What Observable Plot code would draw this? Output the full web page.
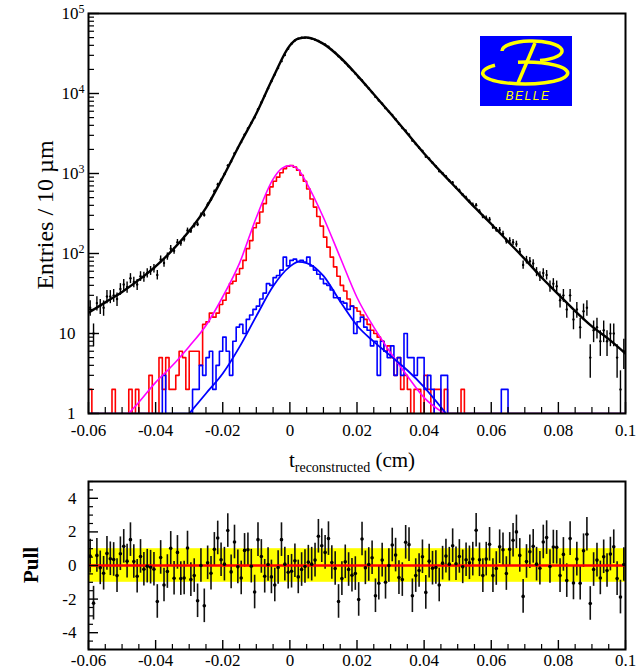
<!DOCTYPE html>
<html><head><meta charset="utf-8">
<script src="https://cdn.jsdelivr.net/npm/d3@7"></script>
<script src="https://cdn.jsdelivr.net/npm/@observablehq/plot@0.6"></script>
<style>
body{margin:0;background:#fff;}
#wrap{position:relative;width:644px;height:671px;font-family:"Liberation Serif","Times New Roman",serif;color:#000;overflow:hidden;}
#top,#bot{position:absolute;left:0;}
#top{top:0}
#bot{top:470px}
.lab{position:absolute;white-space:nowrap;transform:translate(-50%,-50%);}
.rot{transform:translate(-50%,-50%) rotate(-90deg);}
#logo{position:absolute;left:480px;top:36px;}
</style></head><body>
<div id="wrap">
 <div id="top"></div><div id="bot"></div>
 <div class="lab rot" style="left:45px;top:215px;font-size:24px;">Entries / 10 µm</div>
 <div class="lab rot" style="left:31px;top:565px;font-size:21px;font-weight:bold;">Pull</div>
 <div class="lab" style="left:352px;top:460px;font-size:21px;">t<span style="font-size:14px;position:relative;top:5px;">reconstructed</span> (cm)</div>
 <svg id="logo" width="92" height="70" viewBox="0 0 92 70">
  <rect x="0" y="0" width="92" height="70" fill="#0000ff"/>
  <path d="M22,15 A30,10 0 1 1 60,24.6" fill="none" stroke="#ffff00" stroke-width="3.5"/>
  <path d="M15,29.3 A42.5,11 0 1 0 38,26.2" fill="none" stroke="#ffff00" stroke-width="3.5"/>
  <path d="M55,7 L38,47" fill="none" stroke="#ffff00" stroke-width="3.5"/>
  <text x="48" y="64" text-anchor="middle" font-family="Liberation Sans, Arial, sans-serif" font-style="italic" font-size="12" letter-spacing="1.5" fill="#ffff00">BELLE</text>
 </svg>
</div>
<script>
// ---- histogram binning (10 µm bins) ----
const binStart = -0.06;
const binWidth = 0.001;

// black data: entries per bin
const blackCounts = [
 21,10,24,22,21, 29,29,30,27,36, 41,38,49,44,41, 52,51,57,61,65,
 54,84,76,92,115, 108,138,135,152,194, 192,224,232,304,303, 409,473,598,728,826,
 982,1255,1415,1784,2080, 2469,3049,3645,4292,5027, 6359,7721,9379,11620,14208, 17225,20876,25363,30214,36232,
 41905,45874,48379,49834,49990, 49605,48530,47090,45359,42884, 40895,38331,35109,32327,29144, 26664,24244,21843,19688,17801,
 15813,14578,12864,11541,10343, 9074,8183,7441,6556,5943, 5398,4775,4170,3707,3430, 3053,2568,2342,2099,1907,
 1621,1527,1359,1223,1065, 999,916,815,767,667, 613,540,498,446,408, 402,335,289,277,266,
 214,198,197,176,143, 145,138,131,105,72, 83,80,75,59,52, 57,54,39,42,39,
 26,30,20,30,15, 20,12,19,21,5, 11,12,8,11,8, 10,10,5,2,6
];

// red histogram
const redCounts = [
 2,0,0,0,0, 0,0,2,0,0, 0,0,2,0,2, 0,0,0,3,0,
 0,5,2,5,2, 2,3,6,5,2, 6,6,6,4,13, 14,18,16,18,23,
 26,32,42,45,55, 65,82,115,145,210, 240,330,420,540,680, 800,900,1020,1150,1230,
 1260,1200,1100,950,800, 640,480,380,290,220, 160,120,90,68,52, 40,34,27,22,21,
 19,17,15,13,11, 10,9,8,6,7, 5,3,5,2,3, 2,0,2,2,0,
 3,2,0,2,2, 0,2,0,0,0, 0,2,0,0,0, 0,0,0,0,0,
 0,0,0,0,0, 0,0,0,0,0, 0,0,0,0,0, 0,0,0,0,0,
 0,0,0,0,0, 0,0,0,0,0, 0,0,0,0,0, 0,0,0,0,0
];

// blue histogram
const blueCounts = [
 0,0,0,0,0, 0,0,0,0,0, 0,0,0,0,0, 0,0,0,0,0,
 0,0,3,0,0, 0,0,0,0,0, 0,2,2,4,3, 5,6,2,4,6,
 9,6,3,8,12, 13,10,15,17,20, 22,27,32,42,40, 50,53,62,90,70,
 82,85,80,82,78, 90,70,62,55,48, 42,40,35,28,28, 25,24,20,22,10,
 14,16,12,11,7, 8,3,8,6,5, 7,3,5,3,10, 5,5,3,5,5,
 2,3,2,0,0, 3,3,0,0,0, 0,0,0,0,0, 0,0,0,0,0,
 0,0,0,2,2, 0,0,0,0,0, 0,0,0,0,0, 0,0,0,0,0,
 0,0,0,0,0, 0,0,0,0,0, 0,0,0,0,0, 0,0,0,0,0
];

// pulls per bin
const pulls = [
 0.56,-2.24,0.6,-0.14,-0.46,0.72,0.4,0.36,-0.6,0.7,
 1.14,0.26,1.54,0.24,-0.64,0.54,-0.22,-0.04,-0.1,-0.22,
 -2.14,0.48,-1.16,-0.36,1.02,-0.76,0.78,-0.78,-0.74,1.04,
 -0.84,-0.6,-2.1,0.0,-2.4,0.16,-0.46,0.96,1.64,0.34,
 0.08,2.08,-0.38,1.4,-0.08,-0.74,0.9,0.94,-0.04,-1.58,
 1.54,0.54,-0.64,0.06,-0.68,-1.16,-0.12,1.54,0.08,-0.4,
 -0.34,0.28,-0.68,-0.24,-0.06,0.2,0.08,0.32,1.74,1.18,
 0.78,1.6,0.18,-0.18,-2.14,-0.78,0.22,-0.24,-0.58,-0.48,
 -2.02,1.58,-0.14,0.06,0.46,-1.8,-1.06,0.32,-1.0,0.0,
 1.22,0.62,-0.72,-0.84,1.38,1.24,-1.8,-0.6,-0.3,0.52,
 -1.6,0.26,-0.16,-0.12,-1.16,0.14,0.56,0.08,1.18,0.1,
 0.54,-0.08,0.34,0.16,0.38,2.1,0.34,-0.6,0.38,1.26,
 -0.6,-0.18,1.12,0.94,-0.48,0.96,1.5,2.0,0.6,-1.84,
 0.24,0.82,1.14,0.08,-0.16,1.4,1.66,-0.06,1.1,1.08,
 -0.6,0.66,-0.9,1.6,-1.04,0.38,-1.06,0.88,1.86,-2.26,
 -0.24,0.32,-0.74,0.52,-0.3,0.68,1.12,-0.78,-1.88,0.06
];

// fit curves (read at knots)
const fitT = [-0.06,-0.055,-0.05,-0.045,-0.04,-0.035,-0.03,-0.025,-0.02,-0.015,-0.01,-0.005,0,0.0025,0.005,0.01,0.015,0.02,0.025,0.03,0.035,0.04,0.045,0.05,0.055,0.06,0.065,0.07,0.075,0.08,0.085,0.09,0.095,0.1];
const fitV = [18.2,24.5,33.1,46.8,69.2,110,191,372,891,2291,5623,15849,39811,48400,50119,41687,28184,16982,9772,5623,3162,1778,1047,631,380,234,141,85.1,50.1,30.9,19.1,12.3,8.51,5.62];
const magT = [-0.048,-0.045,-0.04,-0.035,-0.03,-0.025,-0.02,-0.015,-0.01,-0.005,-0.0025,0,0.0025,0.005,0.01,0.015,0.02,0.025,0.03,0.035,0.04,0.046];
const magV = [1.0,1.38,2.45,3.98,6.9,12.6,28.8,75.9,282,851,1150,1259,1122,759,282,89,28.2,12.0,5.75,2.95,1.58,1.0];
const bfT = [-0.03,-0.025,-0.02,-0.015,-0.01,-0.005,0,0.0025,0.005,0.01,0.015,0.02,0.025,0.03,0.035,0.04,0.045,0.0465];
const bfV = [1.0,1.78,3.16,6.8,16.5,39,68.5,78.5,75.9,52.5,25.1,12.6,7.9,5.25,3.47,2.14,1.2,1.0];

// axes
const xDomain = [-0.06, 0.1];
const xTicks = [-0.06,-0.04,-0.02,0,0.02,0.04,0.06,0.08,0.1];
const xTickLabels = ["-0.06","-0.04","-0.02","0","0.02","0.04","0.06","0.08","0.1"];
const yTicks = [1,10,100,1000,10000,100000];
const yTickLabels = ["1","10","10^2","10^3","10^4","10^5"];
const pullTicks = [-4,-2,0,2,4];
const pullTickLabels = ["-4","-2","0","2","4"];
const pullBand = [{lo:-1, hi:1}];

// ---- build ----
const W = 644, ML = 88, MR = 19;
const PW = W - ML - MR;
const xLab = new Map(xTicks.map((v,i)=>[v, xTickLabels[i]]));
const yLab = new Map(yTicks.map((v,i)=>[v, yTickLabels[i]]));
const pLab = new Map(pullTicks.map((v,i)=>[v, pullTickLabels[i]]));
const xMinor = d3.range(0, 33).map(k => +(xDomain[0] + k*0.005).toFixed(4)).filter(v => !xTicks.some(t => Math.abs(t-v)<1e-9));
const yMinor = [];
for (const d of [1,10,100,1000,10000]) for (let m=2;m<=9;m++) yMinor.push(d*m);
const pMinor = d3.range(-10, 11).map(k=>k*0.5).filter(v => v % 2 !== 0);

const centers = blackCounts.map((n,i)=>binStart + (i+0.5)*binWidth);
const black = blackCounts.map((n,i)=>({t: centers[i], n, lo: n - Math.sqrt(n), hi: n + Math.sqrt(n)}));
function stepData(arr){
  const pts = arr.map((v,i)=>({x: binStart + i*binWidth, y: Math.max(v,1)}));
  pts.push({x: binStart + arr.length*binWidth, y: Math.max(arr[arr.length-1],1)});
  return pts;
}
const redSteps = stepData(redCounts), blueSteps = stepData(blueCounts);
const fit = fitT.map((t,i)=>({t, v: fitV[i]}));
const mag = magT.map((t,i)=>({t, v: magV[i]}));
const bfit = bfT.map((t,i)=>({t, v: bfV[i]}));

const topH = 470, topMT = 13, topMB = 57;
const topPH = topH - topMT - topMB;
const topPlot = Plot.plot({
  width: W, height: topH, marginLeft: ML, marginRight: MR, marginTop: topMT, marginBottom: topMB,
  style: {fontFamily: '"Liberation Serif","Times New Roman",serif', fontSize: "17px", color: "black", background: "transparent"},
  x: {domain: xDomain},
  y: {type: "log", domain: [1, 1e5]},
  marks: [
    Plot.line(redSteps, {x: "x", y: "y", curve: "step-after", stroke: "#ff0000", strokeWidth: 1.6, clip: true}),
    Plot.line(blueSteps, {x: "x", y: "y", curve: "step-after", stroke: "#0000ff", strokeWidth: 1.6, clip: true}),
    Plot.line(mag, {x: "t", y: "v", curve: "monotone-x", stroke: "#ff00ff", strokeWidth: 1.6, clip: true}),
    Plot.line(bfit, {x: "t", y: "v", curve: "monotone-x", stroke: "#0000ff", strokeWidth: 1.8, clip: true}),
    Plot.line(fit, {x: "t", y: "v", curve: "monotone-x", stroke: "#000", strokeWidth: 2.4, clip: true}),
    Plot.ruleX(black, {x: "t", y1: d => Math.max(d.lo, 0.5), y2: "hi", stroke: "#000", strokeWidth: 1.4, clip: true}),
    Plot.dot(black, {x: "t", y: "n", r: 1.2, fill: "#000", clip: true}),
    Plot.tickY(yTicks, {y: d=>d, insetRight: PW - 11, stroke: "#000", strokeWidth: 1.4}),
    Plot.tickY(yMinor, {y: d=>d, insetRight: PW - 6, stroke: "#000", strokeWidth: 1.2}),
    Plot.tickX(xTicks, {x: d=>d, insetTop: topPH - 11, stroke: "#000", strokeWidth: 1.4}),
    Plot.tickX(xMinor, {x: d=>d, insetTop: topPH - 6, stroke: "#000", strokeWidth: 1.2}),
    Plot.frame({stroke: "#000", strokeWidth: 2}),
    Plot.axisY(yTicks, {anchor: "left", tickSize: 0, tickPadding: 4, label: null, tickFormat: d => yLab.get(d), fontSize: 17}),
    Plot.axisX(xTicks, {anchor: "bottom", tickSize: 0, tickPadding: 10, label: null, tickFormat: d => xLab.get(d), fontSize: 17})
  ]
});
const ns = "http://www.w3.org/2000/svg";
topPlot.querySelectorAll("text").forEach(el => {
  const s = el.textContent;
  if (s.includes("^")) {
    const [b, e] = s.split("^");
    el.textContent = "";
    const t1 = document.createElementNS(ns, "tspan"); t1.textContent = b;
    const t2 = document.createElementNS(ns, "tspan"); t2.textContent = e;
    t2.setAttribute("dy", "-0.5em"); t2.setAttribute("font-size", "12");
    el.append(t1, t2);
  } else if (s === "1" || s === "10") {
    el.setAttribute("dx", "-9");
  }
});
document.getElementById("top").append(topPlot);

const botH = 201, botMT = 11, botMB = 22;
const botPH = botH - botMT - botMB;
const pullData = pulls.map((p,i)=>({t: centers[i], p}));
const botPlot = Plot.plot({
  width: W, height: botH, marginLeft: ML, marginRight: MR, marginTop: botMT, marginBottom: botMB,
  style: {fontFamily: '"Liberation Serif","Times New Roman",serif', fontSize: "17px", color: "black", background: "transparent"},
  x: {domain: xDomain},
  y: {domain: [-5, 5]},
  marks: [
    Plot.rect(pullBand, {x1: xDomain[0], x2: xDomain[1], y1: "lo", y2: "hi", fill: "#ffff00"}),
    Plot.ruleX(pullData, {x: "t", y1: d => d.p - 1, y2: d => d.p + 1, stroke: "#111", strokeWidth: 1.6}),
    Plot.ruleY([0], {stroke: "#ff0000", strokeWidth: 2.5}),
    Plot.dot(pullData, {x: "t", y: "p", r: 1.8, fill: "#000"}),
    Plot.tickY(pullTicks, {y: d=>d, insetRight: PW - 10, stroke: "#000", strokeWidth: 1.4}),
    Plot.tickY(pMinor, {y: d=>d, insetRight: PW - 5, stroke: "#000", strokeWidth: 1.2}),
    Plot.tickX(xTicks, {x: d=>d, insetTop: botPH - 9, stroke: "#000", strokeWidth: 1.4}),
    Plot.tickX(xMinor, {x: d=>d, insetTop: botPH - 5, stroke: "#000", strokeWidth: 1.2}),
    Plot.frame({stroke: "#000", strokeWidth: 2}),
    Plot.axisY(pullTicks, {anchor: "left", tickSize: 0, tickPadding: 12, label: null, tickFormat: d => pLab.get(d), fontSize: 17}),
    Plot.axisX(xTicks, {anchor: "bottom", tickSize: 0, tickPadding: 4, label: null, tickFormat: d => xLab.get(d), fontSize: 17})
  ]
});
document.getElementById("bot").append(botPlot);
</script>
</body></html>
